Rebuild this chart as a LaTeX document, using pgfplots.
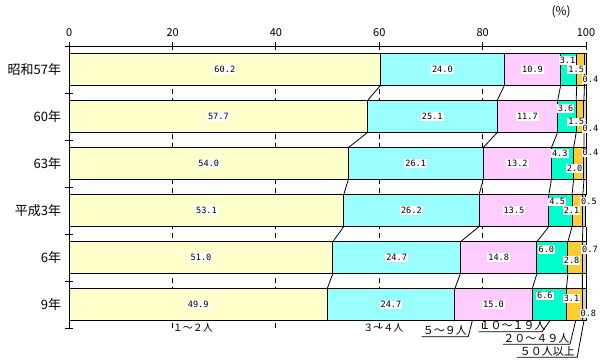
\documentclass[border=0pt]{standalone}
\usepackage{fontspec}
\setmainfont{Noto Sans CJK JP}
\newfontfamily\monof{DejaVu Sans Mono}
\usepackage{pgfplots}
\pgfplotsset{compat=1.18}
\definecolor{c1}{HTML}{FFFFCC}
\definecolor{c2}{HTML}{99FFFF}
\definecolor{c3}{HTML}{FFCCFF}
\definecolor{c4}{HTML}{00FFCC}
\definecolor{c5}{HTML}{FFCC33}
\definecolor{c6}{HTML}{D4D0C8}
\tikzset{
  vlab/.style={font=\monof\fontsize{8.6}{9}\selectfont, fill=white, inner sep=1pt},
  clab/.style={font=\fontsize{11}{11}\selectfont, inner sep=0pt},
}
\pgfplotsset{
  base/.style={at={(69.3pt,31.7pt)}, anchor=south west,
    scale only axis, width=516.7pt, height=282.3pt,
    xmin=0, xmax=100, ymin=-0.5, ymax=5.5, clip=false},
}
\begin{document}
\begin{tikzpicture}
\useasboundingbox (0,0) rectangle (600pt,360pt);
% layer 1: dashed grid
\begin{axis}[base, hide axis]
\foreach \g in {20,40,60,80}{
  \edef\tmp{\noexpand\draw[black, line width=1pt, dash pattern=on 5pt off 4pt] (axis cs:\g,-0.5) -- (axis cs:\g,5.5);}
  \tmp
}
\end{axis}
% layer 2: bars and connectors
\begin{axis}[base, hide axis, xbar stacked, bar width=32pt]
\addplot[fill=c1, draw=black, line width=1pt] coordinates {(60.2,5) (57.7,4) (54.0,3) (53.1,2) (51.0,1) (49.9,0)};
\addplot[fill=c2, draw=black, line width=1pt] coordinates {(24.0,5) (25.1,4) (26.1,3) (26.2,2) (24.7,1) (24.7,0)};
\addplot[fill=c3, draw=black, line width=1pt] coordinates {(10.9,5) (11.7,4) (13.2,3) (13.5,2) (14.8,1) (15.0,0)};
\addplot[fill=c4, draw=black, line width=1pt] coordinates {(3.1,5) (3.6,4) (4.3,3) (4.5,2) (6.0,1) (6.6,0)};
\addplot[fill=c5, draw=black, line width=1pt] coordinates {(1.5,5) (1.5,4) (2.0,3) (2.1,2) (2.8,1) (3.1,0)};
\addplot[fill=c6, draw=black, line width=1pt] coordinates {(0.4,5) (0.4,4) (0.4,3) (0.5,2) (0.7,1) (0.8,0)};
\addplot[sharp plot, stack plots=false, black, line width=0.8pt, mark=none, unbounded coords=jump] coordinates {
 (60.2,4.66) (57.7,4.34) (nan,nan) (57.7,3.66) (54.0,3.34) (nan,nan) (54.0,2.66) (53.1,2.34) (nan,nan) (53.1,1.66) (51.0,1.34) (nan,nan) (51.0,0.66) (49.9,0.34)};
\addplot[sharp plot, stack plots=false, black, line width=0.8pt, mark=none, unbounded coords=jump] coordinates {
 (84.2,4.66) (82.8,4.34) (nan,nan) (82.8,3.66) (80.1,3.34) (nan,nan) (80.1,2.66) (79.3,2.34) (nan,nan) (79.3,1.66) (75.7,1.34) (nan,nan) (75.7,0.66) (74.6,0.34)};
\addplot[sharp plot, stack plots=false, black, line width=0.8pt, mark=none, unbounded coords=jump] coordinates {
 (95.1,4.66) (94.5,4.34) (nan,nan) (94.5,3.66) (93.3,3.34) (nan,nan) (93.3,2.66) (92.8,2.34) (nan,nan) (92.8,1.66) (90.5,1.34) (nan,nan) (90.5,0.66) (89.6,0.34)};
\addplot[sharp plot, stack plots=false, black, line width=0.8pt, mark=none, unbounded coords=jump] coordinates {
 (98.2,4.66) (98.1,4.34) (nan,nan) (98.1,3.66) (97.6,3.34) (nan,nan) (97.6,2.66) (97.3,2.34) (nan,nan) (97.3,1.66) (96.5,1.34) (nan,nan) (96.5,0.66) (96.2,0.34)};
\addplot[sharp plot, stack plots=false, black, line width=0.8pt, mark=none, unbounded coords=jump] coordinates {
 (99.7,4.66) (99.6,4.34) (nan,nan) (99.6,3.66) (99.6,3.34) (nan,nan) (99.6,2.66) (99.4,2.34) (nan,nan) (99.4,1.66) (99.3,1.34) (nan,nan) (99.3,0.66) (99.3,0.34)};
\addplot[sharp plot, stack plots=false, black, line width=0.8pt, mark=none, unbounded coords=jump] coordinates {
 (100,4.66) (100,4.34) (nan,nan) (100,3.66) (100,3.34) (nan,nan) (100,2.66) (100,2.34) (nan,nan) (100,1.66) (100,1.34) (nan,nan) (100,0.66) (100,0.34)};
\end{axis}
% layer 3: axes, ticks and labels
\begin{axis}[base,
  axis line style={draw=none},
  xtick={0,20,...,100}, xtick pos=right, xticklabel pos=right,
  tick align=center, major tick length=8pt,
  tick style={black, line width=1pt},
  xticklabel style={font=\fontsize{11}{11}\selectfont, inner sep=0pt, anchor=south, yshift=5pt},
  /pgf/number format/assume math mode=true,
  ytick={-0.5,0.5,...,5.5}, yticklabels={}, ytick pos=left,
  extra y ticks={0,1,2,3,4,5},
  extra y tick labels={9年,6年,平成3年,63年,60年,昭和57年},
  extra y tick style={major tick length=0pt, yticklabel style={font=\fontsize{13}{13}\selectfont, anchor=east, inner sep=0pt, xshift=-8pt}},
]
\draw[black, line width=1pt] (axis cs:0,5.5) -- (axis cs:100,5.5);
\draw[black, line width=1pt] (axis cs:0,-0.5) -- (axis cs:0,5.5);
\node[vlab] at (axis cs:30.1,5) {60.2};
\node[vlab] at (axis cs:72.2,5) {24.0};
\node[vlab] at (axis cs:89.65,5) {10.9};
\node[vlab] at (axis cs:28.85,4) {57.7};
\node[vlab] at (axis cs:70.25,4) {25.1};
\node[vlab] at (axis cs:88.65,4) {11.7};
\node[vlab] at (axis cs:27.0,3) {54.0};
\node[vlab] at (axis cs:67.05,3) {26.1};
\node[vlab] at (axis cs:86.7,3) {13.2};
\node[vlab] at (axis cs:26.55,2) {53.1};
\node[vlab] at (axis cs:66.2,2) {26.2};
\node[vlab] at (axis cs:86.05,2) {13.5};
\node[vlab] at (axis cs:25.5,1) {51.0};
\node[vlab] at (axis cs:63.35,1) {24.7};
\node[vlab] at (axis cs:83.1,1) {14.8};
\node[vlab] at (axis cs:24.95,0) {49.9};
\node[vlab] at (axis cs:62.25,0) {24.7};
\node[vlab] at (axis cs:82.1,0) {15.0};
\node[vlab, anchor=west] at (axis cs:94.7,5.19) {3.1};
\node[vlab, anchor=west] at (axis cs:94.3,4.17) {3.6};
\node[vlab, anchor=west] at (axis cs:93.2,3.21) {4.3};
\node[vlab, anchor=west] at (axis cs:92.7,2.19) {4.5};
\node[vlab, anchor=west] at (axis cs:90.6,1.17) {6.0};
\node[vlab, anchor=west] at (axis cs:90.3,0.19) {6.6};
\node[vlab] at (axis cs:98.1,5.0) {1.5};
\node[vlab] at (axis cs:98.1,3.89) {1.5};
\node[vlab] at (axis cs:97.8,2.9) {2.0};
\node[vlab] at (axis cs:97.2,2.0) {2.1};
\node[vlab] at (axis cs:97.2,0.94) {2.8};
\node[vlab] at (axis cs:97.2,0.13) {3.1};
\node[vlab, anchor=east] at (axis cs:102.6,4.79) {0.4};
\node[vlab, anchor=east] at (axis cs:102.6,3.75) {0.4};
\node[vlab, anchor=east] at (axis cs:102.6,3.23) {0.4};
\node[vlab, anchor=east] at (axis cs:102.3,2.19) {0.5};
\node[vlab, anchor=east] at (axis cs:102.5,1.17) {0.7};
\node[vlab, anchor=east] at (axis cs:102.2,-0.19) {0.8};
\node[font=\fontsize{12}{12}\selectfont, inner sep=0pt] at (axis cs:95.2,6.23) {(\%)};
\node[clab, font=\fontsize{10}{10}\selectfont] at (axis cs:23.9,-0.48) {１～２人};
\node[clab, font=\fontsize{10}{10}\selectfont] at (axis cs:60.8,-0.48) {３～４人};
\node[clab, anchor=south] at (axis cs:72.7,-0.66) {５～９人};
\draw[black, line width=0.8pt] (axis cs:68.2,-0.679) -- (axis cs:77.2,-0.679) -- (axis cs:78.0,-0.34);
\node[clab, anchor=south] at (axis cs:85.8,-0.555) {１０～１９人};
\draw[black, line width=0.8pt] (axis cs:79.2,-0.572) -- (axis cs:91.5,-0.572) -- (axis cs:93.0,-0.34);
\node[clab, anchor=south] at (axis cs:90.4,-0.82) {２０～４９人};
\draw[black, line width=0.8pt] (axis cs:83.9,-0.84) -- (axis cs:96.9,-0.84) -- (axis cs:98.0,-0.34);
\node[clab, anchor=south] at (axis cs:92.5,-1.10) {５０人以上};
\draw[black, line width=0.8pt] (axis cs:86.6,-1.116) -- (axis cs:98.3,-1.116) -- (axis cs:99.6,-0.34);
\end{axis}
\end{tikzpicture}
\end{document}
